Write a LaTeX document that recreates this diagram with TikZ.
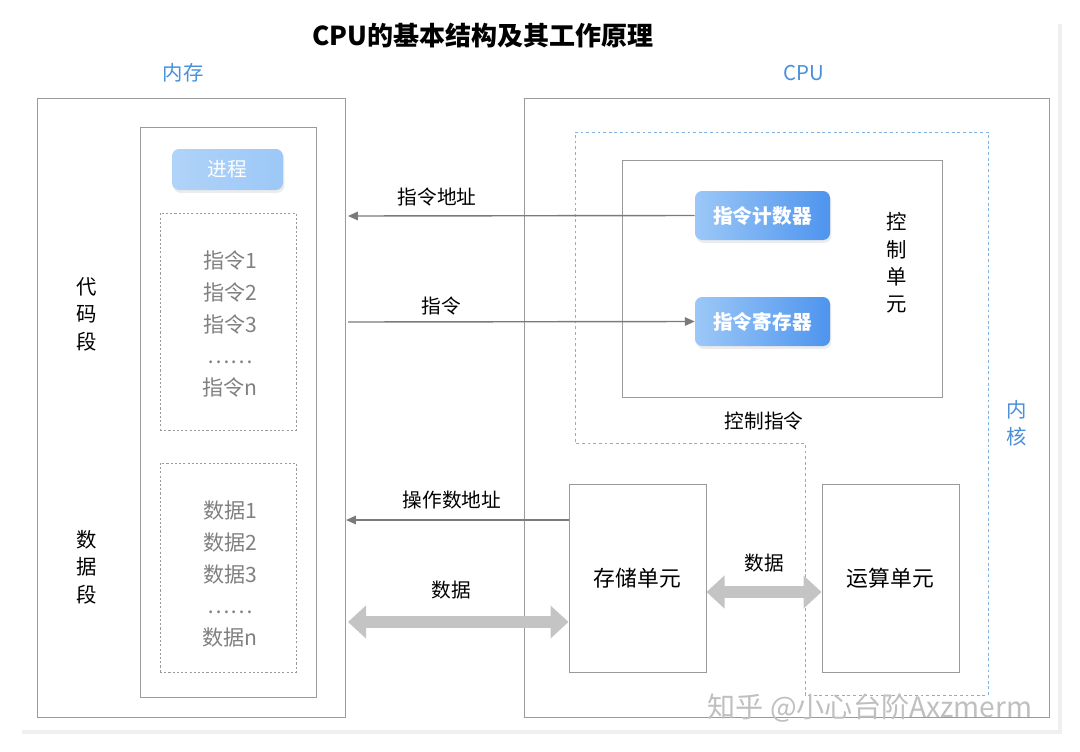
\documentclass[tikz,border=0pt]{standalone}
\usepackage{fontspec}
\setmainfont{Noto Sans CJK SC}
\usetikzlibrary{arrows.meta,shadows}
\definecolor{bluet}{HTML}{4A90D9}
\definecolor{boxg}{HTML}{9A9A9A}
\definecolor{arrg}{HTML}{7A7A7A}
\definecolor{bigg}{HTML}{C4C4C4}
\definecolor{pillL}{HTML}{9CC8F7}
\definecolor{pillR}{HTML}{4E94EE}
\begin{document}
\begin{tikzpicture}[x=0.025cm,y=-0.025cm,
  box/.style={draw=boxg,line width=0.7pt},
  dbox/.style={draw=boxg,dash pattern=on 1.5pt off 1.5pt,line width=0.6pt},
  pill/.style={rounded corners=5pt,left color=pillL,right color=pillR,draw=none,text=white,font=\fontsize{14}{16}\selectfont\bfseries,drop shadow={opacity=0.15,shadow xshift=1pt,shadow yshift=-2pt}},
  lbl/.style={font=\fontsize{14}{16}\selectfont},
  vert/.style={align=center,font=\fontsize{14.5}{19.5}\selectfont},
  gtxt/.style={text=gray,align=center,font=\fontsize{15}{22.5}\selectfont},
  arr/.style={draw=arrg,line width=1pt,-{Triangle[length=7pt,width=6pt]}},
  big/.style={draw=bigg,line width=0.3cm,{Triangle[length=0.45cm,width=0.8cm]}-{Triangle[length=0.45cm,width=0.8cm]}}]
\useasboundingbox (0,0) rectangle (1080,751);
\fill[black!6] (22,24) rectangle (1062,734);
\fill[white] (20,20) rectangle (1058,730);
\node[font=\fontsize{18.5}{20}\selectfont\bfseries] (title) at (483,36) {CPU的基本结构及其工作原理};
\node[text=bluet,font=\fontsize{14.5}{16}\selectfont] (memt) at (183,73) {内存};
\node[text=bluet,font=\fontsize{14.5}{16}\selectfont] (cput) at (804,73) {CPU};
% memory
\node[box,minimum width=308*0.025cm,minimum height=619*0.025cm] (mem) at (191,407.5) {};
\node[box,minimum width=176*0.025cm,minimum height=570*0.025cm] (seg) at (228,412) {};
\node[pill,left color=pillL!80,right color=pillL,minimum width=111*0.025cm,minimum height=41*0.025cm,font=\fontsize{14}{16}\selectfont] (proc) at (227.5,169.5) {进程};
\node[dbox,minimum width=136*0.025cm,minimum height=217*0.025cm] (code) at (228,321.5) {};
\node[gtxt] (codet) at (230,324) {指令1\\指令2\\指令3\\……\\指令n};
\node[dbox,minimum width=136*0.025cm,minimum height=209*0.025cm] (data) at (228,567.5) {};
\node[gtxt] (datat) at (230,574) {数据1\\数据2\\数据3\\……\\数据n};
\node[vert] (cseg) at (87,314) {代\\码\\段};
\node[vert] (dseg) at (87,567) {数\\据\\段};
% cpu
\node[box,minimum width=525*0.025cm,minimum height=619*0.025cm] (cpu) at (786.5,407.5) {};
\draw[draw=bluet!70,dash pattern=on 2pt off 2pt,line width=0.6pt] (575,132) -- (988,132) -- (988,695) -- (805,695) -- (805,443) -- (575,443) -- cycle;
\node[box,minimum width=320*0.025cm,minimum height=237*0.025cm] (cu) at (782,278.5) {};
\node[pill,minimum width=135*0.025cm,minimum height=49*0.025cm] (pc) at (762.5,215.5) {指令计数器};
\node[pill,minimum width=135*0.025cm,minimum height=49*0.025cm] (ir) at (762.5,321.5) {指令寄存器};
\node[vert] (cut) at (897,263) {控\\制\\单\\元};
\node[lbl] (ctl) at (764,421) {控制指令};
\node[vert,text=bluet] (core) at (1017,423) {内\\核};
\node[box,minimum width=137*0.025cm,minimum height=188*0.025cm,font=\fontsize{15.5}{18}\selectfont] (st) at (637.5,578) {存储单元};
\node[box,minimum width=137*0.025cm,minimum height=188*0.025cm,font=\fontsize{15.5}{18}\selectfont] (alu) at (890.5,578) {运算单元};
% connectors
\coordinate (a1) at (348,216);
\coordinate (a2) at (348,322);
\coordinate (a3) at (346,520);
\coordinate (a4) at (348,622);
\draw[arr] (pc.west) -- (a1);
\node[lbl] (l1) at (437,197) {指令地址};
\draw[arr] (a2) -- (ir.west);
\node[lbl] (l2) at (441,306) {指令};
\draw[arr] (st.west |- a3) -- (a3);
\node[lbl] (l3) at (452,500) {操作数地址};
\draw[big] (a4) -- (st.west |- a4);
\node[lbl] (l4) at (451,590) {数据};
\draw[big] (st.east |- 0,592) -- (alu.west |- 0,592);
\node[lbl] (l5) at (764,563) {数据};
\node[text=gray!50,font=\fontsize{20}{22}\selectfont] (wm) at (870,708) {知乎 @小心台阶Axzmerm};
\end{tikzpicture}
\end{document}
